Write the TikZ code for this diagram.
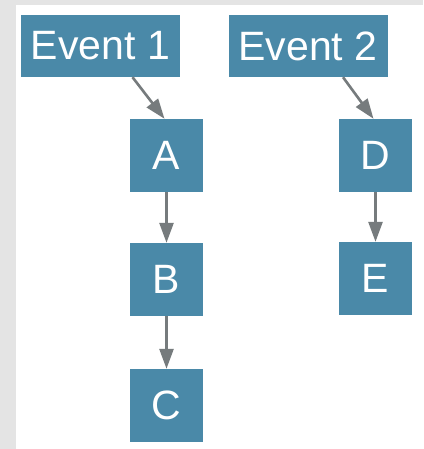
\documentclass[tikz,border=0pt]{standalone}
\usepackage{fontspec}
\setmainfont{Liberation Sans}
\usetikzlibrary{arrows.meta}
\definecolor{boxfill}{HTML}{4A89A8}
\definecolor{edgegray}{HTML}{767B7D}
\definecolor{pagegray}{HTML}{E4E4E4}
\tikzset{
  box/.style={fill=boxfill, text=white, inner sep=0pt, font=\fontsize{41}{41}\selectfont},
  evbox/.style={box, minimum width=159pt, minimum height=62pt},
  sqbox/.style={box, minimum width=73pt, minimum height=73pt},
  link/.style={draw=edgegray, line width=2.6pt, -{Triangle[length=20pt,width=14pt]}}
}
\begin{document}
\begin{tikzpicture}[x=1pt,y=-1pt]
  % page and canvas
  \fill[pagegray] (0,0) rectangle (423,449);
  \fill[white] (16,5) rectangle (423,449);
  \useasboundingbox (0,0) rectangle (423,449);
  % event boxes
  \node[evbox] (e1) at (100.5,46) {Event 1};
  \node[evbox] (e2) at (308,46) {Event 2};
  % chain nodes
  \node[sqbox] (A) at (166.5,155.5) {A};
  \node[sqbox] (B) at (166.5,279.5) {B};
  \node[sqbox] (C) at (166.5,405.5) {C};
  \node[sqbox] (D) at (375.5,155.5) {D};
  \node[sqbox] (E) at (375.5,278.5) {E};
  % connectors
  \draw[link] ([xshift=32pt]e1.south) -- ([xshift=-2pt]A.north);
  \draw[link] ([xshift=35pt]e2.south) -- ([xshift=-2pt]D.north);
  \draw[link] (A.south) -- (B.north);
  \draw[link] (B.south) -- (C.north);
  \draw[link] (D.south) -- (E.north);
\end{tikzpicture}
\end{document}
